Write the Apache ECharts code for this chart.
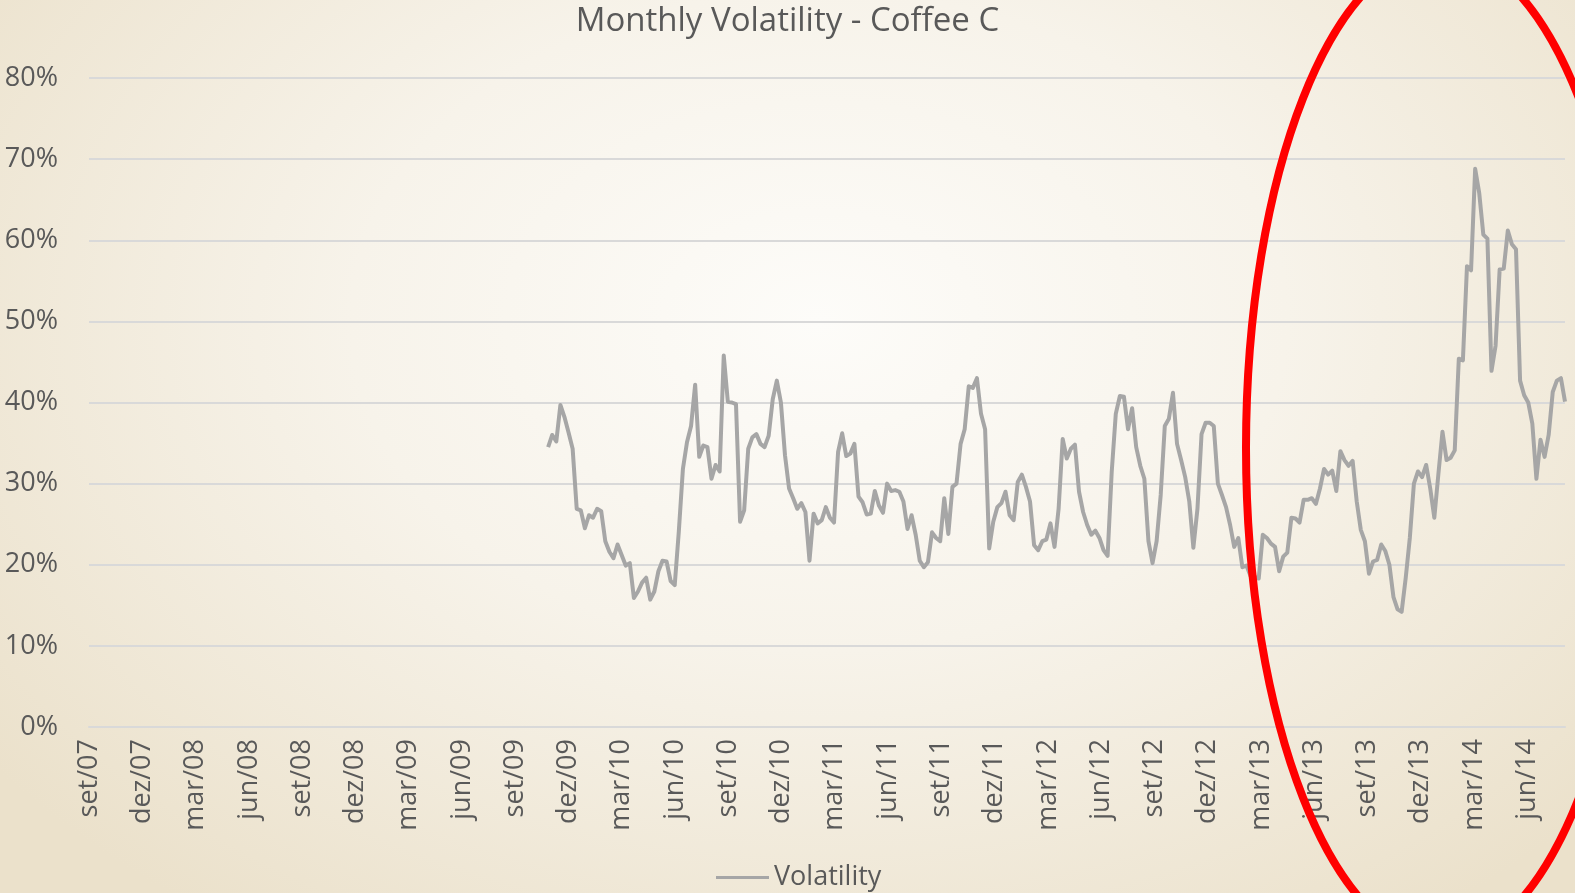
<!DOCTYPE html>
<html>
<head>
<meta charset="utf-8">
<title>Monthly Volatility - Coffee C</title>
<script src="https://cdn.jsdelivr.net/npm/echarts@6/dist/echarts.min.js"></script>
<style>
  html, body { margin: 0; padding: 0; }
  body {
    width: 1575px;
    height: 893px;
    overflow: hidden;
    background: radial-gradient(ellipse 66% 82% at 52% 36%, #fdfcf9 0%, #f7f3ea 45%, #ebe1cb 100%);
  }
  #chart { width: 1575px; height: 893px; }
</style>
</head>
<body>
<div id="chart"></div>
<script>
// axis runs from set/07, one label every 3 months
const axisStart = '2007-09-01'
const firstWeek = '2009-10-27'   // weekly observations from here on
const monthNames = ['jan', 'fev', 'mar', 'abr', 'mai', 'jun', 'jul', 'ago', 'set', 'out', 'nov', 'dez']
const yTicks = [0, 10, 20, 30, 40, 50, 60, 70, 80]

// weekly volatility, in %
const volatility = [
  34.5, 36.0, 35.2, 39.7, 38.2, 36.3, 34.3, 26.9, 26.7, 24.5,
  26.1, 25.8, 26.9, 26.6, 22.9, 21.6, 20.8, 22.5, 21.2, 19.9,
  20.2, 15.9, 16.7, 17.8, 18.4, 15.7, 16.7, 19.2, 20.5, 20.4,
  18.0, 17.5, 24.1, 31.8, 35.1, 37.1, 42.2, 33.3, 34.7, 34.5,
  30.6, 32.3, 31.5, 45.8, 40.1, 40.0, 39.8, 25.3, 26.7, 34.3,
  35.7, 36.1, 34.9, 34.5, 35.9, 40.4, 42.7, 40.0, 33.5, 29.4,
  28.2, 26.9, 27.6, 26.5, 20.5, 26.3, 25.1, 25.5, 27.1, 25.8,
  25.2, 33.9, 36.2, 33.4, 33.7, 34.9, 28.4, 27.7, 26.2, 26.3,
  29.1, 27.3, 26.4, 30.0, 29.1, 29.2, 29.0, 27.8, 24.4, 26.1,
  23.7, 20.5, 19.7, 20.3, 24.0, 23.3, 22.9, 28.2, 23.8, 29.6,
  30.0, 34.9, 36.7, 42.0, 41.8, 43.0, 38.6, 36.7, 22.0, 25.3,
  27.1, 27.6, 29.0, 26.1, 25.5, 30.2, 31.1, 29.6, 27.8, 22.4,
  21.8, 22.9, 23.1, 25.1, 22.2, 26.9, 35.5, 33.1, 34.3, 34.8,
  29.0, 26.5, 24.9, 23.7, 24.2, 23.3, 21.8, 21.1, 31.4, 38.6,
  40.8, 40.7, 36.7, 39.3, 34.5, 32.2, 30.6, 22.9, 20.2, 22.9,
  28.6, 37.1, 38.0, 41.2, 34.9, 32.9, 30.8, 27.8, 22.1, 26.9,
  36.1, 37.5, 37.5, 37.1, 30.0, 28.6, 27.1, 24.9, 22.2, 23.3,
  19.7, 19.9, 18.6, 18.5, 18.3, 23.7, 23.3, 22.6, 22.2, 19.2,
  21.0, 21.5, 25.8, 25.7, 25.2, 28.0, 28.0, 28.2, 27.5, 29.4,
  31.8, 31.1, 31.6, 29.1, 34.0, 32.9, 32.2, 32.8, 27.8, 24.3,
  22.9, 18.9, 20.4, 20.6, 22.5, 21.7, 20.0, 16.0, 14.5, 14.2,
  18.4, 23.3, 30.0, 31.5, 30.8, 32.3, 29.4, 25.8, 31.2, 36.4,
  32.9, 33.2, 34.1, 45.4, 45.2, 56.8, 56.3, 68.8, 65.8, 60.7,
  60.2, 43.9, 47.0, 56.4, 56.5, 61.2, 59.5, 58.9, 42.7, 40.9,
  40.0, 37.4, 30.6, 35.4, 33.3, 36.0, 41.3, 42.7, 43.0, 40.1,
]

const DAY = 24 * 3600 * 1000
const MONTH = 365.25 / 12 * DAY

// x is months since axisStart, so ticks every 3 land on set/dez/mar/jun
function toMonths(t) {
  return (t - Date.parse(axisStart)) / MONTH
}

function monthLabel(v) {
  if (Math.abs(v - Math.round(v)) > 1e-6) return ''
  const m = 8 + Math.round(v)
  const yy = 7 + Math.floor(m / 12)
  return monthNames[m % 12] + '/' + String(yy).padStart(2, '0')
}

const t0 = Date.parse(firstWeek)
const points = volatility.map((v, i) => [toMonths(t0 + i * 7 * DAY), v])

const textColor = '#595959'
const gridColor = '#d9d9d9'
const font = '"Open Sans", sans-serif'

const chart = echarts.init(document.getElementById('chart'))
chart.setOption({
  backgroundColor: 'transparent',
  animation: false,
  title: {
    text: 'Monthly Volatility - Coffee C',
    left: 'center',
    top: 0,
    textStyle: { fontFamily: font, fontSize: 33, fontWeight: 'normal', color: textColor },
  },
  legend: {
    bottom: -3,
    left: 711,
    icon: 'rect',
    itemWidth: 53,
    itemHeight: 3,
    textStyle: { fontFamily: font, fontSize: 27, color: textColor },
    data: ['Volatility'],
  },
  grid: { left: 89, right: 10, top: 78, bottom: 166 },
  xAxis: {
    type: 'value',
    min: 0,
    max: 'dataMax',
    interval: 3,
    axisLine: { show: true, lineStyle: { color: gridColor, width: 2 } },
    axisTick: { show: false },
    splitLine: { show: false },
    axisLabel: {
      rotate: 90,
      margin: 12,
      padding: [6, 0, 0, 0],
      showMaxLabel: false,
      fontFamily: font,
      fontSize: 27,
      color: textColor,
      formatter: monthLabel,
    },
  },
  yAxis: {
    type: 'value',
    min: yTicks[0],
    max: yTicks[yTicks.length - 1],
    interval: 10,
    axisLine: { show: false },
    axisTick: { show: false },
    splitLine: { lineStyle: { color: gridColor, width: 2 } },
    axisLabel: {
      margin: 31,
      fontFamily: font,
      fontSize: 27,
      color: textColor,
      formatter: '{value}%',
    },
  },
  series: [
    {
      name: 'Volatility',
      type: 'line',
      data: points,
      showSymbol: false,
      symbol: 'none',
      lineStyle: { color: '#a6a6a6', width: 4, join: 'round' },
      itemStyle: { color: '#a6a6a6' },
    },
  ],
  // red highlight drawn over the last year
  graphic: [
    {
      type: 'ellipse',
      shape: { cx: 1441, cy: 448, rx: 195, ry: 495 },
      style: { fill: 'none', stroke: '#ff0000', lineWidth: 8 },
      z: 100,
    },
  ],
})
</script>
</body>
</html>
